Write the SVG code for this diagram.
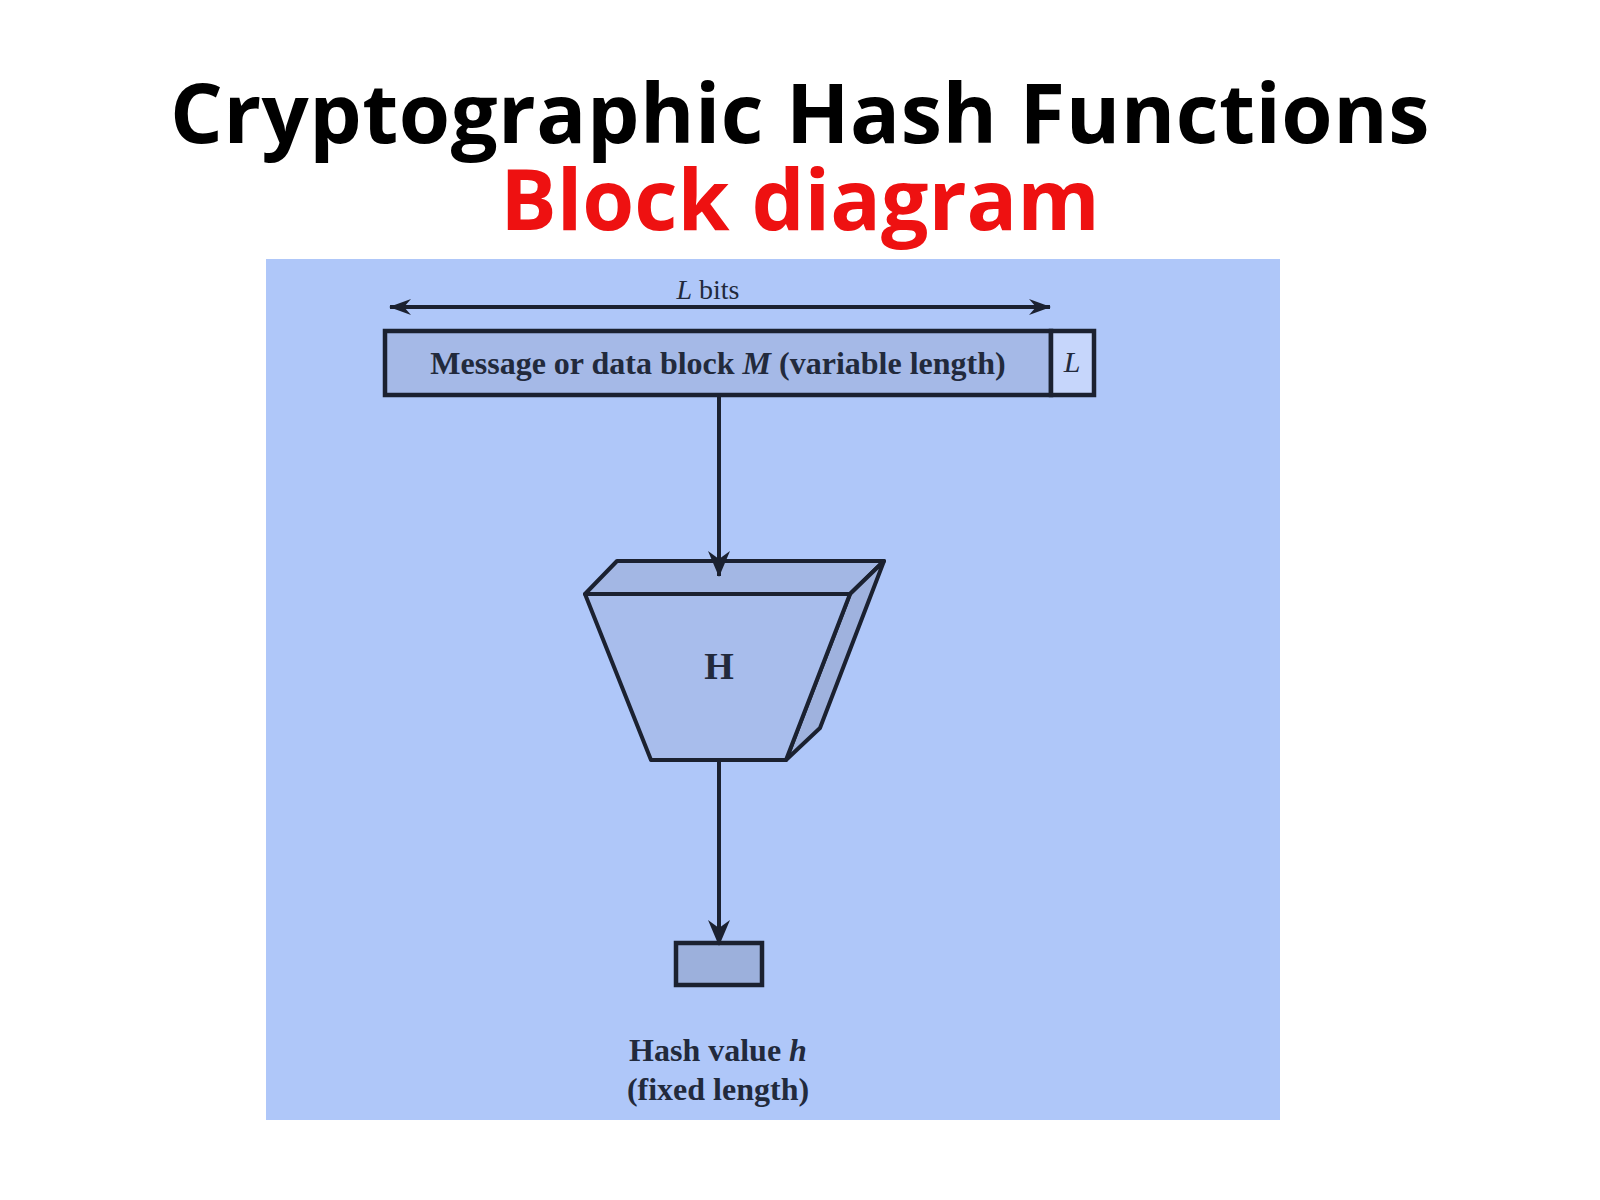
<svg xmlns="http://www.w3.org/2000/svg" width="1600" height="1200" viewBox="0 0 1600 1200">
<defs>
<marker id="ah" viewBox="0 0 26 22" refX="25" refY="11" markerWidth="26" markerHeight="22" markerUnits="userSpaceOnUse" orient="auto-start-reverse">
<path d="M0,0 L26,11 L0,22 L8,11 Z" fill="#1b2130"/>
</marker>
<marker id="ahs" viewBox="0 0 22 16" refX="21" refY="8" markerWidth="22" markerHeight="16" markerUnits="userSpaceOnUse" orient="auto-start-reverse">
<path d="M0,0 L22,8 L0,16 L7,8 Z" fill="#1b2130"/>
</marker>
</defs>
<style>
.title{font-family:"Open Sans","Noto Sans",sans-serif;font-weight:700;text-anchor:middle}
.lbl{font-family:"Liberation Serif","Times New Roman",serif;fill:#222a3c;text-anchor:middle}
.edge{stroke:#1b2130;stroke-width:4;fill:none}
.box{stroke:#1b2130;stroke-width:4.5}
</style>
<rect width="1600" height="1200" fill="#ffffff"/>
<g id="title">
<text class="title" x="800" y="143" font-size="83" fill="#000000" letter-spacing="0.5">Cryptographic Hash Functions</text>
<text class="title" x="800" y="230" font-size="84" fill="#ee1111">Block diagram</text>
</g>
<rect id="panel" x="266" y="259" width="1014" height="861" fill="#afc7f9"/>
<g id="lbits">
<text class="lbl" x="708" y="299" font-size="28"><tspan font-style="italic">L</tspan> bits</text>
</g>
<g id="message">
<rect class="box" x="385" y="331" width="666" height="64" fill="#a5b9e7"/>
<rect class="box" x="1051" y="331" width="43" height="64" fill="#c6d6fb"/>
<text class="lbl" x="718" y="374" font-size="32" font-weight="700">Message or data block <tspan font-style="italic">M</tspan> (variable length)</text>
<text class="lbl" x="1072" y="372" font-size="30" font-style="italic">L</text>
</g>
<g id="hash">
<path d="M585,594 L617,561 L884,561 L850,594 Z" fill="#a3b7e4" stroke="#1b2130" stroke-width="4" stroke-linejoin="round"/>
<path d="M850,594 L884,561 L820,728 L786,760 Z" fill="#9fb2de" stroke="#1b2130" stroke-width="4" stroke-linejoin="round"/>
<path d="M585,594 L850,594 L786,760 L651,760 Z" fill="#a8bdec" stroke="#1b2130" stroke-width="4" stroke-linejoin="round"/>
<text class="lbl" x="719" y="679" font-size="38" font-weight="700">H</text>
</g>
<g id="output">
<rect class="box" x="676" y="943" width="86" height="42" fill="#9cb0dc"/>
<text class="lbl" x="718" y="1061" font-size="32" font-weight="700">Hash value <tspan font-style="italic">h</tspan></text>
<text class="lbl" x="718" y="1100" font-size="32" font-weight="700">(fixed length)</text>
</g>
<g id="connectors">
<line class="edge" x1="390" y1="307" x2="1050" y2="307" stroke-width="3" marker-start="url(#ahs)" marker-end="url(#ahs)"/>
<line class="edge" x1="719" y1="397" x2="719" y2="576" marker-end="url(#ah)"/>
<line class="edge" x1="719" y1="762" x2="719" y2="945" marker-end="url(#ah)"/>
</g>
</svg>
